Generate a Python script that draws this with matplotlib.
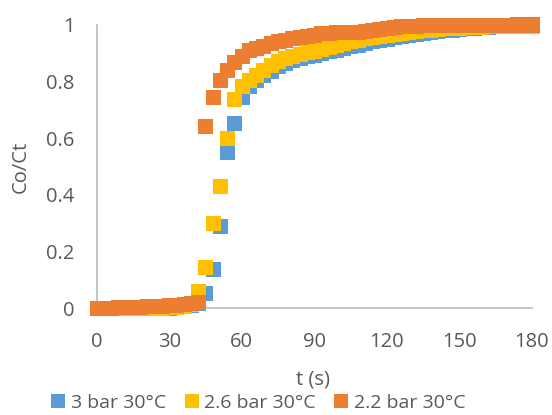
import matplotlib
matplotlib.use("Agg")
import matplotlib.pyplot as plt
from matplotlib.lines import Line2D

plt.rcParams['font.family'] = ['Open Sans', 'DejaVu Sans']

# time (s)
t = [0, 3, 6, 9, 12, 15, 18, 21, 24, 27, 30, 33, 36, 39, 42, 45, 48, 51, 54, 57,
     60, 63, 66, 69, 72, 75, 78, 81, 84, 87, 90, 93, 96, 99, 102, 105, 108, 111, 114, 117,
     120, 123, 126, 129, 132, 135, 138, 141, 144, 147, 150, 153, 156, 159, 162, 165, 168, 171, 174, 177,
     180]

# 3 bar 30°C
c_3bar = [0.0, 0.0, 0.0, 0.0, 0.0, 0.0, 0.0, 0.001, 0.001, 0.002, 0.002, 0.004, 0.007, 0.012, 0.02, 0.055, 0.14, 0.29, 0.55, 0.655,
          0.745, 0.785, 0.805, 0.822, 0.838, 0.855, 0.866, 0.876, 0.883, 0.889, 0.895, 0.901, 0.907, 0.913, 0.919, 0.925, 0.93, 0.936, 0.942, 0.947,
          0.952, 0.957, 0.961, 0.965, 0.969, 0.972, 0.975, 0.978, 0.981, 0.984, 0.986, 0.988, 0.99, 0.992, 0.994, 0.996, 0.998, 1.0, 1.002, 1.003,
          1.003]

# 2.6 bar 30°C
c_26bar = [0.0, 0.0, 0.0, 0.0, 0.0, 0.0, 0.001, 0.001, 0.002, 0.002, 0.003, 0.005, 0.009, 0.015, 0.06, 0.145, 0.30, 0.432, 0.60, 0.739,
           0.785, 0.805, 0.825, 0.842, 0.857, 0.872, 0.883, 0.891, 0.897, 0.903, 0.909, 0.915, 0.922, 0.93, 0.937, 0.943, 0.948, 0.953, 0.957, 0.961,
           0.965, 0.969, 0.972, 0.975, 0.978, 0.981, 0.984, 0.986, 0.988, 0.99, 0.991, 0.992, 0.993, 0.994, 0.995, 0.995, 0.996, 0.996, 0.996, 0.995,
           0.995]

# 2.2 bar 30°C
c_22bar = [0.0, 0.001, 0.002, 0.003, 0.004, 0.005, 0.006, 0.007, 0.008, 0.009, 0.01, 0.012, 0.014, 0.017, 0.022, 0.644, 0.745, 0.806, 0.84, 0.87,
           0.891, 0.91, 0.92, 0.927, 0.935, 0.942, 0.946, 0.953, 0.958, 0.962, 0.966, 0.97, 0.972, 0.974, 0.975, 0.975, 0.976, 0.978, 0.982, 0.987,
           0.99, 0.993, 0.995, 0.997, 0.998, 0.999, 0.999, 1.0, 1.0, 1.0, 1.0, 1.0, 1.0, 1.0, 0.999, 0.999, 0.999, 0.999, 0.999, 0.999,
           0.999]

labels = ['3 bar 30°C', '2.6 bar 30°C', '2.2 bar 30°C']
colors = ['#5B9BD5', '#FFC000', '#ED7D31']
series = [c_3bar, c_26bar, c_22bar]

x_ticks = [0, 30, 60, 90, 120, 150, 180]
y_ticks = [0, 0.2, 0.4, 0.6, 0.8, 1]
y_ticklabels = ['0', '0.2', '0.4', '0.6', '0.8', '1']

text_col = '#595959'
fs = 14.5

fig = plt.figure(figsize=(5.52, 4.15), dpi=100)
ax = fig.add_axes([0.1752, 0.2571, 0.788, 0.6827])

for y, c in zip(series, colors):
    ax.plot(t, y, linestyle='none', marker='s', ms=10.8, mfc=c, mec=c, mew=0, clip_on=False)

ax.set_xlim(0, 180)
ax.set_ylim(0, 1)
ax.set_xticks(x_ticks)
ax.set_yticks(y_ticks)
ax.set_yticklabels(y_ticklabels)
ax.tick_params(length=0, labelsize=fs, labelcolor=text_col)
ax.tick_params(axis='y', pad=16)
ax.tick_params(axis='x', pad=17)
for s in ['top', 'right']:
    ax.spines[s].set_visible(False)
for s in ['left', 'bottom']:
    ax.spines[s].set_color('#BFBFBF')
    ax.spines[s].set_linewidth(1.3)
    ax.spines[s].set_zorder(0)

fig.text(313 / 552, 1 - 380 / 415, 't (s)', ha='center', va='center', fontsize=fs, color=text_col)
fig.text(20.7 / 552, 1 - 167 / 415, 'Co/Ct', ha='center', va='center', rotation=90, fontsize=fs, color=text_col)

handles = [Line2D([], [], linestyle='none', marker='s', ms=9.4, mfc=c, mec=c, mew=0) for c in colors]
fig.legend(handles, labels, loc='center', bbox_to_anchor=(258.5 / 552, 1 - 402.7 / 415), ncol=3,
           frameon=False, fontsize=14, labelcolor=text_col, handlelength=0.7, handletextpad=0.3,
           columnspacing=0.95, borderpad=0, borderaxespad=0)

fig.savefig('out.png', dpi=100)
